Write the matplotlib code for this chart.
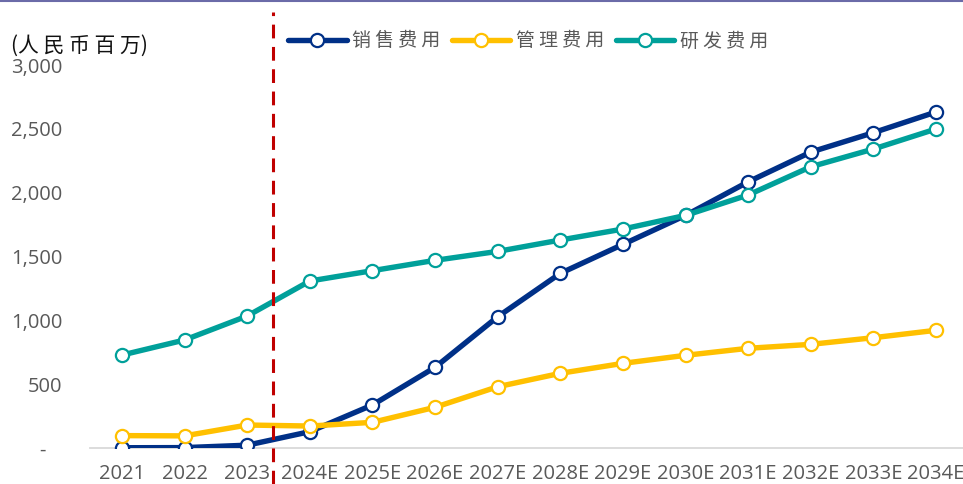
import matplotlib
matplotlib.use("Agg")
import matplotlib.pyplot as plt
from matplotlib.lines import Line2D

plt.rcParams['font.family'] = ['Open Sans', 'Noto Sans CJK SC', 'DejaVu Sans']

# Categories and series (人民币百万)
years = ["2021", "2022", "2023", "2024E", "2025E", "2026E", "2027E",
         "2028E", "2029E", "2030E", "2031E", "2032E", "2033E", "2034E"]
selling = [2, 3, 22, 128, 337, 632, 1028, 1368, 1595, 1822, 2085, 2318, 2470, 2632]
admin = [97, 95, 180, 172, 201, 319, 480, 585, 663, 726, 781, 812, 864, 922]
rnd = [728, 846, 1034, 1308, 1389, 1470, 1540, 1629, 1715, 1822, 1982, 2203, 2342, 2499]
series_names = ["销售费用", "管理费用", "研发费用"]
yticks = [0, 500, 1000, 1500, 2000, 2500, 3000]
forecast_split = 2.42

colors = ["#003087", "#FFC000", "#00A09A"]

W, H = 963, 484
fig = plt.figure(figsize=(W / 100, H / 100), dpi=100)
ax = fig.add_axes([90 / W, (H - 448) / H, 873 / W, 383 / H])

x = list(range(len(years)))
for vals, c in zip([selling, admin, rnd], colors):
    ax.plot(x, vals, color=c, lw=3.9, marker="o", ms=9.5, mfc="white",
            mec=c, mew=1.6, solid_capstyle="round", zorder=3)

ax.set_xlim(-0.51, 13.43)
ax.set_ylim(0, 3000)
ax.set_xticks(x)
ax.set_xticklabels(years)
ax.set_yticks(yticks)
ax.set_yticklabels(["-   " if v == 0 else f"{v:,}" for v in yticks])
ax.tick_params(axis="both", length=0, labelsize=14.5, colors="#595959")
ax.tick_params(axis="y", pad=20)
ax.tick_params(axis="x", pad=11.5)

for s in ["top", "right", "left"]:
    ax.spines[s].set_visible(False)
ax.spines["bottom"].set_color("#D9D9D9")
ax.spines["bottom"].set_linewidth(1.3)

# Actual / forecast divider
xt = ax.transData.transform((forecast_split, 0))[0] / W
fig.add_artist(Line2D([xt, xt], [0, (H - 12) / H], transform=fig.transFigure,
                      color="#C00000", lw=2.2, ls=(0, (4.5, 2.8))))

# Top rule
fig.add_artist(Line2D([0, 1], [1 - 0.8 / H, 1 - 0.8 / H], transform=fig.transFigure,
                      color="#6B6BA8", lw=1.5))

# Unit label
fig.text(11 / W, (H - 46) / H, "(人 民 币 百 万)", fontsize=15, color="#111111",
         family=["Noto Sans CJK SC", "DejaVu Sans"], va="center", ha="left")

# Legend
handles = [Line2D([], [], color=c, lw=3.9, marker="o", ms=9.5, mfc="white",
                  mec=c, mew=1.6, solid_capstyle="round") for c in colors]
labels = [" ".join(n) for n in series_names]
leg = fig.legend(handles, labels, ncol=3, loc="center left",
                 bbox_to_anchor=(288 / W, (H - 41) / H), frameon=False,
                 borderpad=0, borderaxespad=0, handlelength=3.1,
                 handletextpad=0.3, columnspacing=0.6,
                 prop={"family": ["Noto Sans CJK SC", "DejaVu Sans"], "size": 13.6})
for t in leg.get_texts():
    t.set_color("#595959")

fig.savefig("out.png", dpi=100)
